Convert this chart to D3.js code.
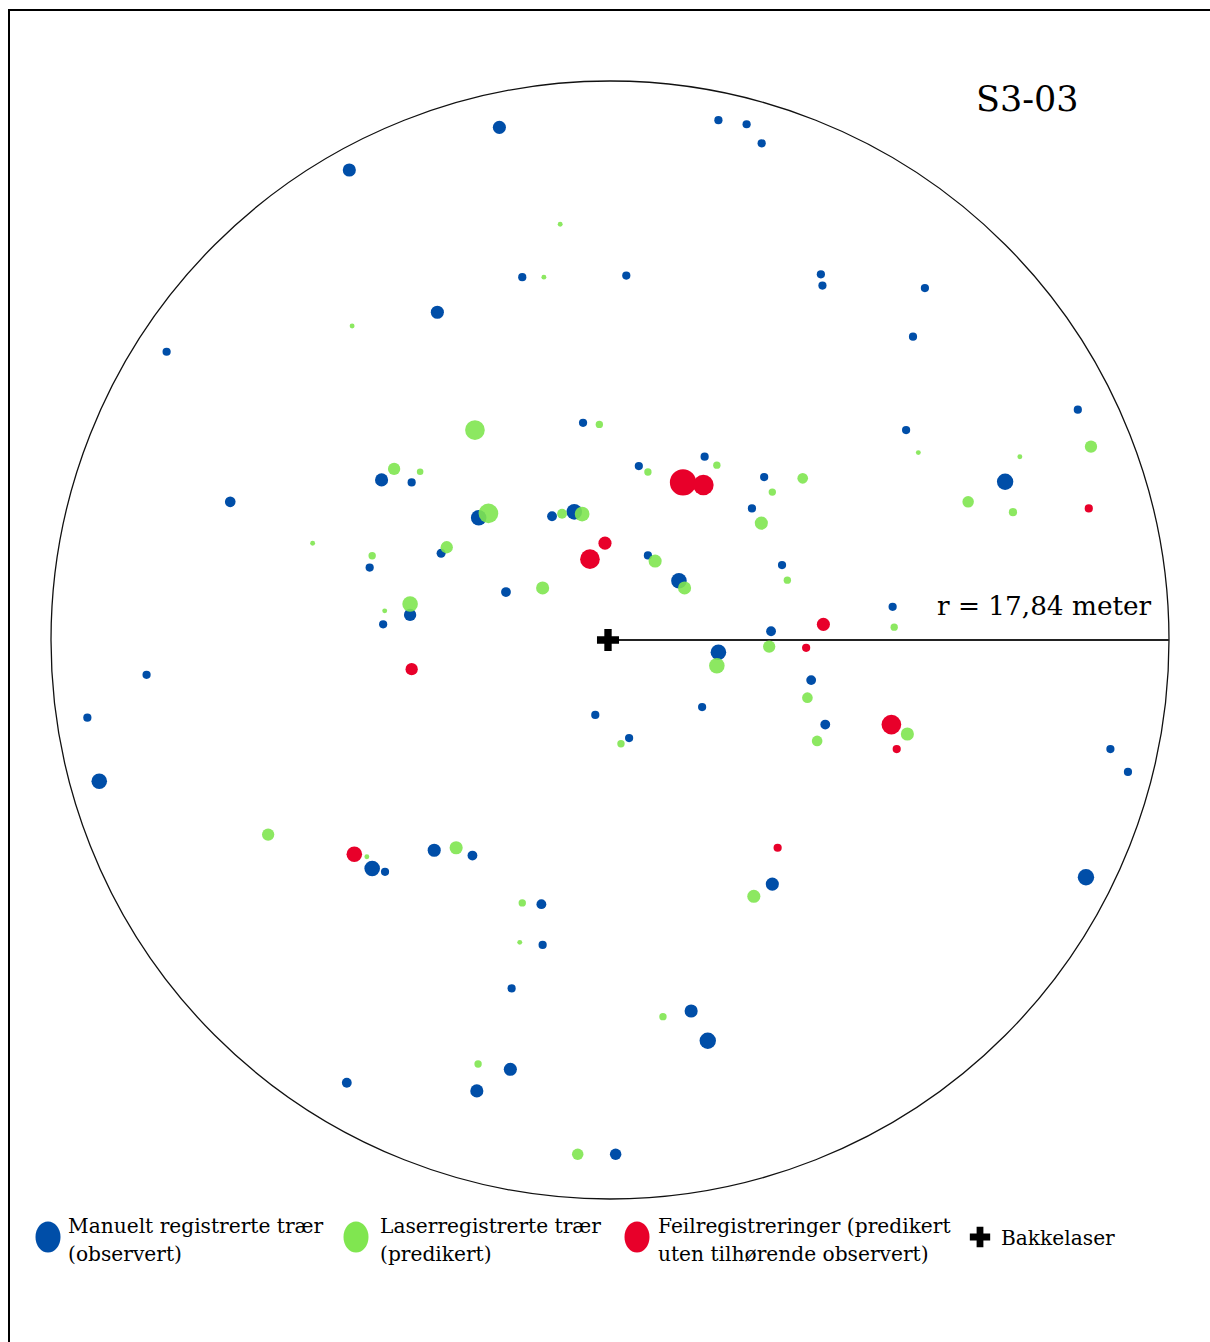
<!DOCTYPE html>
<html>
  <head>
    <meta charset="UTF-8">
    <title>S3-03</title>
    <script src="https://d3js.org/d3.v7.min.js"></script>
    <style>
      body { margin: 0; background: #fff; }
      text { font-family: "DejaVu Serif", "Liberation Serif", serif; fill: #000; }
    </style>
  </head>
  <body>
    <div id="chart"></div>
    <script>
      // plot radius (m) and plot name
      const plotName = "S3-03";
      const plotRadius = 17.84;
      const radiusLabel = "r = 17,84 meter";

      // trees as [x (m), y (m), diameter (cm)], relative to the ground laser
      const observed = [
        [-8.32, 15.00, 16], [-14.15, 9.20, 10], [-3.53, 16.36, 16], [3.46, 16.59, 10],
        [4.36, 16.46, 10], [4.84, 15.85, 10], [-2.80, 11.58, 10], [0.52, 11.63, 10],
        [-5.51, 10.46, 16], [-0.86, 6.93, 10], [6.73, 11.67, 10], [6.78, 11.31, 10],
        [10.05, 11.23, 10], [9.67, 9.68, 10], [14.93, 7.35, 10], [9.45, 6.70, 10],
        [-7.29, 5.11, 16], [-6.33, 5.03, 10], [-12.12, 4.41, 13], [-7.67, 2.31, 10],
        [-6.38, 0.80, 15], [-7.24, 0.50, 10], [-14.79, -1.11, 10], [-16.68, -2.48, 10],
        [-16.30, -4.51, 19], [3.02, 5.85, 10], [0.92, 5.55, 10], [4.92, 5.20, 10],
        [4.53, 4.20, 10], [-4.19, 3.90, 19], [-1.85, 3.95, 12], [-1.14, 4.09, 19],
        [-5.39, 2.77, 11], [1.21, 2.70, 10], [5.49, 2.39, 10], [2.20, 1.89, 19],
        [-3.32, 1.53, 12], [5.14, 0.28, 12], [3.46, -0.39, 19], [2.94, -2.14, 10],
        [-0.47, -2.39, 10], [0.61, -3.13, 10], [12.61, 5.05, 20], [9.02, 1.06, 10],
        [6.42, -1.28, 12], [6.87, -2.70, 12], [15.97, -3.48, 10], [16.53, -4.21, 10],
        [-7.59, -7.29, 19], [-7.18, -7.40, 10], [-8.40, -14.13, 12], [-5.61, -6.71, 16],
        [-4.39, -6.88, 12], [5.18, -7.79, 16], [-2.19, -8.43, 12], [-2.15, -9.73, 10],
        [-3.14, -11.12, 10], [2.59, -11.84, 16], [3.12, -12.79, 20], [-3.18, -13.70, 16],
        [-4.25, -14.39, 16], [0.18, -16.41, 14], [15.19, -7.57, 20]
      ];

      const predicted = [
        [-8.23, 10.02, 6], [-1.59, 13.27, 6], [-2.11, 11.58, 6], [-4.31, 6.70, 24],
        [-0.34, 6.88, 9], [15.35, 6.17, 15], [-6.89, 5.46, 15], [-6.06, 5.37, 8],
        [-9.49, 3.09, 6], [-7.59, 2.69, 9], [-6.38, 1.15, 19], [-7.19, 0.93, 6],
        [-10.91, -6.21, 15], [3.41, 5.58, 9], [1.21, 5.36, 9], [5.18, 4.72, 9],
        [6.15, 5.16, 13], [4.83, 3.73, 16], [-3.88, 4.04, 24], [-1.53, 4.03, 12],
        [-0.89, 4.02, 18], [-5.21, 2.96, 15], [1.44, 2.52, 16], [5.66, 1.91, 9],
        [2.38, 1.66, 16], [-2.15, 1.66, 16], [5.08, -0.21, 15], [3.41, -0.82, 19],
        [0.35, -3.31, 9], [9.84, 5.98, 6], [13.08, 5.85, 6], [11.43, 4.41, 14],
        [12.86, 4.08, 10], [9.07, 0.41, 9], [6.30, -1.84, 13], [6.61, -3.22, 13],
        [9.49, -3.00, 16], [-7.76, -6.92, 6], [-4.91, -6.63, 16], [4.59, -8.18, 16],
        [-2.80, -8.39, 9], [-2.88, -9.65, 6], [1.69, -12.02, 9], [-4.21, -13.53, 9],
        [-1.03, -16.41, 14]
      ];

      const falsePositives = [
        [-6.33, -0.93, 15], [2.33, 5.03, 32], [2.98, 4.95, 25], [-0.16, 3.09, 16],
        [-0.64, 2.58, 24], [15.28, 4.20, 10], [6.81, 0.50, 16], [6.26, -0.25, 10],
        [8.98, -2.70, 24], [9.15, -3.48, 10], [-8.16, -6.84, 19], [5.35, -6.63, 10]
      ];

      const legendLabels = [
        ["Manuelt registrerte trær", "(observert)"],
        ["Laserregistrerte trær", "(predikert)"],
        ["Feilregistreringer (predikert", "uten tilhørende observert)"]
      ];
      const laserLabel = "Bakkelaser";

      const colors = { observed: "#004ea8", predicted: "#80e650", false: "#e8002a" };

      const width = 1210;
      const height = 1342;
      const cx = 610, cy = 640, R = 559;

      const svg = d3.select("#chart")
        .append("svg")
        .attr("width", width)
        .attr("height", height);

      // frame
      svg.append("rect")
        .attr("x", 9).attr("y", 10)
        .attr("width", 1400).attr("height", 1500)
        .attr("fill", "none")
        .attr("stroke", "#000")
        .attr("stroke-width", 2);

      const x = d3.scaleLinear().domain([-plotRadius, plotRadius]).range([cx - R, cx + R]);
      const y = d3.scaleLinear().domain([-plotRadius, plotRadius]).range([cy + R, cy - R]);
      const r = d3.scaleLinear().domain([0, 40]).range([0, 16.4]);

      // plot boundary
      svg.append("circle")
        .attr("cx", x(0)).attr("cy", y(0))
        .attr("r", x(plotRadius) - x(0))
        .attr("fill", "none")
        .attr("stroke", "#111")
        .attr("stroke-width", 1.3);

      // radius line
      svg.append("line")
        .attr("x1", x(0)).attr("y1", y(0))
        .attr("x2", x(plotRadius)).attr("y2", y(0))
        .attr("stroke", "#222")
        .attr("stroke-width", 2);

      svg.append("text")
        .attr("x", 937).attr("y", 615)
        .attr("font-size", 26.3)
        .text(radiusLabel);

      svg.append("text")
        .attr("x", 976).attr("y", 111)
        .attr("font-size", 35)
        .text(plotName);

      function drawTrees(data, color, opacity) {
        svg.append("g")
          .selectAll("circle")
          .data(data)
          .join("circle")
          .attr("cx", d => x(d[0]))
          .attr("cy", d => y(d[1]))
          .attr("r", d => r(d[2]))
          .attr("fill", color)
          .attr("fill-opacity", opacity);
      }

      drawTrees(observed, colors.observed, 1);
      drawTrees(predicted, colors.predicted, 0.9);
      drawTrees(falsePositives, colors.false, 1);

      // ground laser
      const cross = d3.symbol().type(d3.symbolCross).size(270);
      svg.append("path")
        .attr("d", cross)
        .attr("transform", `translate(${x(0) - 2}, ${y(0)})`)
        .attr("fill", "#000");

      // legend
      const legendX = [48, 356, 637];
      const textOffset = [20, 24, 21];
      const legend = svg.selectAll(".legend")
        .data(legendLabels)
        .join("g")
        .attr("class", "legend")
        .attr("transform", (d, i) => `translate(${legendX[i]}, 1237)`);

      legend.append("ellipse")
        .attr("rx", 12.5).attr("ry", 15.5)
        .attr("fill", (d, i) => [colors.observed, colors.predicted, colors.false][i]);

      legend.append("text")
        .attr("x", (d, i) => textOffset[i]).attr("y", -4)
        .attr("font-size", 20.2)
        .text(d => d[0]);

      legend.append("text")
        .attr("x", (d, i) => textOffset[i]).attr("y", 24)
        .attr("font-size", 20.2)
        .text(d => d[1]);

      svg.append("path")
        .attr("d", d3.symbol().type(d3.symbolCross).size(230))
        .attr("transform", "translate(980, 1237)")
        .attr("fill", "#000");

      svg.append("text")
        .attr("x", 1001).attr("y", 1245)
        .attr("font-size", 20.2)
        .text(laserLabel);
    </script>
  </body>
</html>
